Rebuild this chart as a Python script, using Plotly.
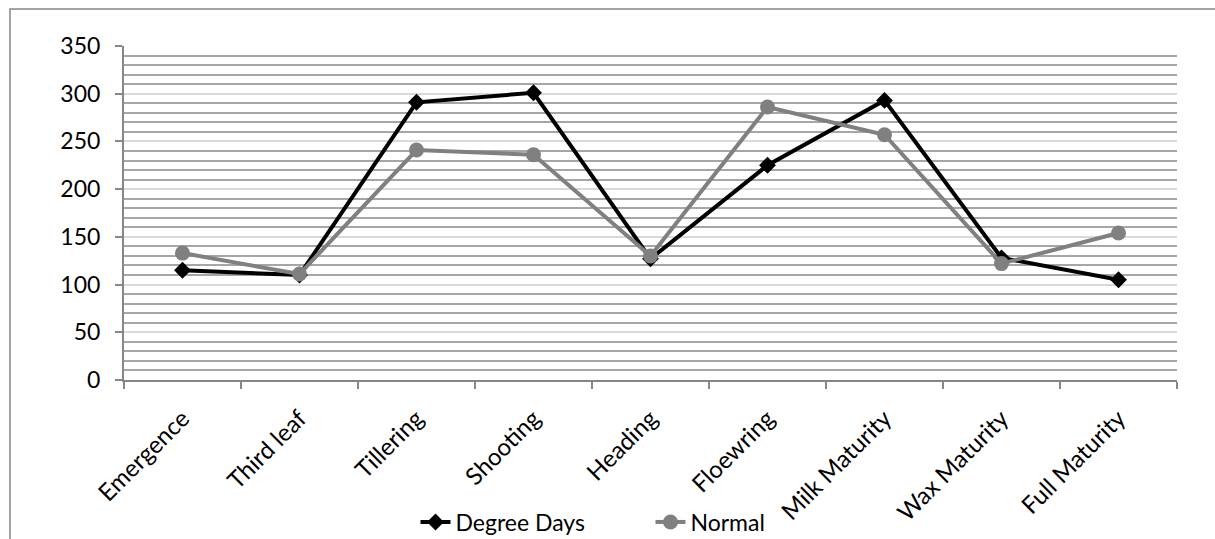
import plotly.graph_objects as go

stages = ["Emergence", "Third leaf", "Tillering", "Shooting", "Heading",
          "Floewring", "Milk Maturity", "Wax Maturity", "Full Maturity"]
degree_days = [115, 110, 291, 301, 127, 225, 293, 128, 105]
normal = [133, 111, 241, 236, 130, 286, 257, 122, 154]

FONT = "Lato"

fig = go.Figure()
fig.add_trace(go.Scatter(
    x=stages, y=degree_days, name="Degree Days", mode="lines+markers",
    line=dict(color="#000000", width=4),
    marker=dict(symbol="diamond", size=13, color="#000000"),
))
fig.add_trace(go.Scatter(
    x=stages, y=normal, name="Normal", mode="lines+markers",
    line=dict(color="#808080", width=4),
    marker=dict(symbol="circle", size=15, color="#808080"),
))

L, R, T, B = 124, 38, 46, 159
W, H = 1215, 539
pw, ph = W - L - R, H - T - B

fig.update_layout(
    width=W, height=H,
    margin=dict(l=L, r=R, t=T, b=B, autoexpand=False),
    paper_bgcolor="white", plot_bgcolor="white",
    font=dict(family=FONT, size=23, color="#000000"),
    showlegend=True,
    legend=dict(orientation="h", x=0.50, xanchor="center",
                yref="container", y=1 - 522 / H, yanchor="middle",
                font=dict(family=FONT, size=23), entrywidth=190,
                bgcolor="rgba(0,0,0,0)", tracegroupgap=0),
    xaxis=dict(
        type="category", showgrid=False, showline=True, linecolor="#868686", linewidth=2,
        ticks="outside", tickson="boundaries", ticklen=7, tickcolor="#868686", tickwidth=2,
        tickangle=-45, tickfont=dict(family=FONT, size=24), ticklabelstandoff=13,
        range=[-0.5, 8.5], automargin=False,
    ),
    yaxis=dict(
        range=[0, 350], dtick=50, showgrid=True, gridcolor="#d9d9d9", gridwidth=2,
        showline=True, linecolor="#868686", linewidth=2,
        ticks="outside", ticklen=7, tickcolor="#868686", tickwidth=2,
        tickfont=dict(family=FONT, size=23), zeroline=False, ticklabelstandoff=10,
        automargin=False,
        minor=dict(dtick=10, showgrid=True, gridcolor="#a6a6a6", gridwidth=2, ticks=""),
    ),
    shapes=[dict(
        type="rect", xref="paper", yref="paper",
        x0=(10 - L) / pw, x1=(W + 10 - L) / pw,
        y0=(H - B - (H + 10)) / ph, y1=(H - B - 9) / ph,
        line=dict(color="#868686", width=1.5), fillcolor="rgba(0,0,0,0)", layer="below",
    )],
)

fig.write_html("out.html")
